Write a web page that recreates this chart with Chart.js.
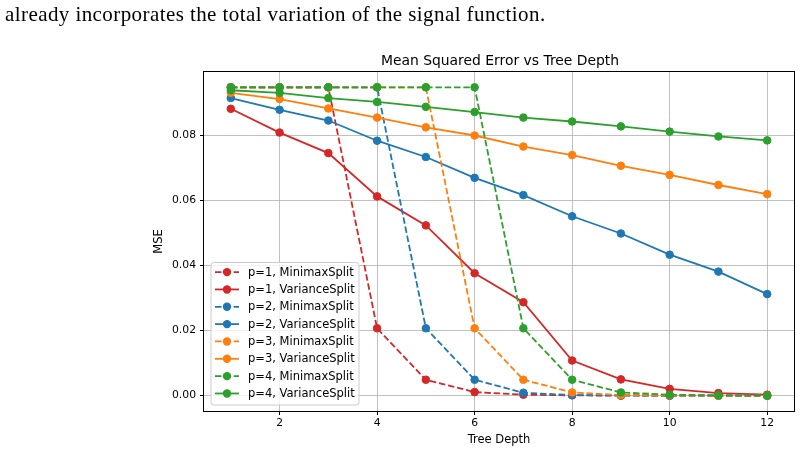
<!DOCTYPE html>
<html><head><meta charset="utf-8">
<script src="https://cdn.jsdelivr.net/npm/chart.js@4.4.0/dist/chart.umd.min.js"></script>
<style>
html,body{margin:0;padding:0;background:#fff;width:801px;height:453px;overflow:hidden}
#txt{position:absolute;left:5px;top:0px;font-family:"Liberation Serif",serif;font-size:21px;letter-spacing:0.42px;line-height:28px;color:#000;white-space:nowrap}
canvas{position:absolute;left:0;top:0}
</style></head><body>
<canvas id="c" width="801" height="453"></canvas>
<div id="txt">already incorporates the total variation of the signal function.</div>
<script>
const depths = [1,2,3,4,5,6,7,8,9,10,11,12];
const minimaxP1 = [0.0947,0.0947,0.0947,0.0207,0.0049,0.0011,0.0003,0.0001,0,0,0,0];
const varianceP1 = [0.0881,0.0808,0.0745,0.0612,0.0523,0.0376,0.0287,0.0108,0.0050,0.0021,0.0008,0.0003];
const minimaxP2 = [0.0947,0.0947,0.0947,0.0947,0.0207,0.0049,0.0009,0.0002,0.0001,0,0,0];
const varianceP2 = [0.0914,0.0878,0.0845,0.0783,0.0733,0.0669,0.0616,0.0551,0.0498,0.0433,0.0381,0.0312];
const minimaxP3 = [0.0947,0.0947,0.0947,0.0947,0.0947,0.0207,0.0049,0.0010,0.0002,0.0001,0,0];
const varianceP3 = [0.0930,0.0911,0.0882,0.0854,0.0824,0.0799,0.0765,0.0739,0.0706,0.0678,0.0647,0.0619];
const minimaxP4 = [0.0947,0.0947,0.0947,0.0947,0.0947,0.0947,0.0207,0.0049,0.0010,0.0003,0.0001,0];
const varianceP4 = [0.0938,0.0930,0.0914,0.0902,0.0887,0.0871,0.0854,0.0842,0.0827,0.0811,0.0796,0.0784];
const xTicks = [2,4,6,8,10,12];
const yTicks = [0.00,0.02,0.04,0.06,0.08];
const chartTitle = "Mean Squared Error vs Tree Depth";
const xTitle = "Tree Depth";
const yTitle = "MSE";

const seriesDefs = [
  {label:"p=1, MinimaxSplit", data:minimaxP1, color:"#d62728", dashed:true},
  {label:"p=1, VarianceSplit", data:varianceP1, color:"#d62728", dashed:false},
  {label:"p=2, MinimaxSplit", data:minimaxP2, color:"#1f77b4", dashed:true},
  {label:"p=2, VarianceSplit", data:varianceP2, color:"#1f77b4", dashed:false},
  {label:"p=3, MinimaxSplit", data:minimaxP3, color:"#ff7f0e", dashed:true},
  {label:"p=3, VarianceSplit", data:varianceP3, color:"#ff7f0e", dashed:false},
  {label:"p=4, MinimaxSplit", data:minimaxP4, color:"#2ca02c", dashed:true},
  {label:"p=4, VarianceSplit", data:varianceP4, color:"#2ca02c", dashed:false}
];
const DASH = [6.5,2.8];
const FONT = "DejaVu Sans";

const datasets = seriesDefs.map((s,i)=>({
  label:s.label,
  data:depths.map((d,j)=>({x:d,y:s.data[j]})),
  borderColor:s.color, backgroundColor:s.color,
  pointBackgroundColor:s.color, pointBorderColor:s.color,
  borderWidth:1.8, borderDash:s.dashed?DASH:[],
  pointRadius:3.8, pointBorderWidth:1, tension:0,
  order: seriesDefs.length - i,
  _dashed:s.dashed
}));

const custom = {
  id:'custom',
  afterDatasetsDraw(chart){
    const {ctx, chartArea:a} = chart;
    ctx.save();
    ctx.strokeStyle = '#000'; ctx.lineWidth = 1;
    ctx.strokeRect(Math.round(a.left)-0.5, Math.round(a.top)-0.5, Math.round(a.width)+1, Math.round(a.height)+1);
    ctx.restore();
  },
  afterDraw(chart){
    const {ctx, chartArea:a} = chart;
    ctx.save();
    ctx.fillStyle = '#000';
    ctx.font = '13.9px "'+FONT+'"';
    ctx.textAlign = 'center'; ctx.textBaseline = 'middle';
    ctx.fillText(chartTitle, (a.left+a.right)/2 + 1, a.top - 11);
    const bx = a.left + 7, bw = 148, bh = 142.5, by = a.bottom - 6 - bh;
    ctx.globalAlpha = 0.8;
    ctx.fillStyle = '#fff';
    ctx.strokeStyle = '#cccccc'; ctx.lineWidth = 1;
    const r = 3;
    ctx.beginPath();
    ctx.moveTo(bx+r, by); ctx.lineTo(bx+bw-r, by); ctx.arcTo(bx+bw, by, bx+bw, by+r, r);
    ctx.lineTo(bx+bw, by+bh-r); ctx.arcTo(bx+bw, by+bh, bx+bw-r, by+bh, r);
    ctx.lineTo(bx+r, by+bh); ctx.arcTo(bx, by+bh, bx, by+bh-r, r);
    ctx.lineTo(bx, by+r); ctx.arcTo(bx, by, bx+r, by, r);
    ctx.closePath(); ctx.fill(); ctx.globalAlpha = 1; ctx.stroke();
    ctx.font = '11.5px "'+FONT+'"';
    ctx.textAlign = 'left'; ctx.textBaseline = 'middle';
    chart.data.datasets.forEach((ds,i)=>{
      const y = by + 9.6 + i*17.34;
      ctx.strokeStyle = ds.borderColor; ctx.lineWidth = 1.8;
      ctx.setLineDash(ds._dashed ? DASH : []);
      ctx.beginPath(); ctx.moveTo(bx+4, y); ctx.lineTo(bx+28, y); ctx.stroke();
      ctx.setLineDash([]);
      ctx.fillStyle = ds.borderColor;
      ctx.beginPath(); ctx.arc(bx+16, y, 4.2, 0, Math.PI*2); ctx.fill();
      ctx.fillStyle = '#000';
      ctx.fillText(ds.label, bx+37, y+0.5);
    });
    ctx.restore();
  }
};

new Chart(document.getElementById('c'), {
  type:'line',
  data:{datasets},
  plugins:[custom],
  options:{
    responsive:false, animation:false, devicePixelRatio:1,
    layout:{padding:{left:144, right:7, top:72, bottom:0}},
    plugins:{legend:{display:false}, tooltip:{enabled:false}, title:{display:false}},
    scales:{
      x:{
        type:'linear', min:0.45, max:12.55,
        afterBuildTicks(s){ s.ticks = xTicks.map(v=>({value:v})); },
        afterFit(s){ s.height = 42; },
        grid:{color:'#b0b0b0', lineWidth:0.8, tickColor:'#000', tickLength:4, tickWidth:1},
        border:{display:false},
        ticks:{color:'#000', font:{family:FONT, size:10.8}, padding:2, maxRotation:0, autoSkip:false, callback:v=>String(v)},
        title:{display:true, text:xTitle, color:'#000', font:{family:FONT, size:11.5}, padding:{top:0,bottom:6}}
      },
      y:{
        type:'linear', min:-0.0047, max:0.0994,
        afterBuildTicks(s){ s.ticks = yTicks.map(v=>({value:v})); },
        afterFit(s){ s.width = 60; },
        grid:{color:'#b0b0b0', lineWidth:0.8, tickColor:'#000', tickLength:4, tickWidth:1},
        border:{display:false},
        ticks:{color:'#000', font:{family:FONT, size:10.8}, padding:4, autoSkip:false, callback:v=>v.toFixed(2)},
        title:{display:true, text:yTitle, color:'#000', font:{family:FONT, size:11.5}, padding:{top:8.5,bottom:0}}
      }
    }
  }
});
</script>
</body></html>
